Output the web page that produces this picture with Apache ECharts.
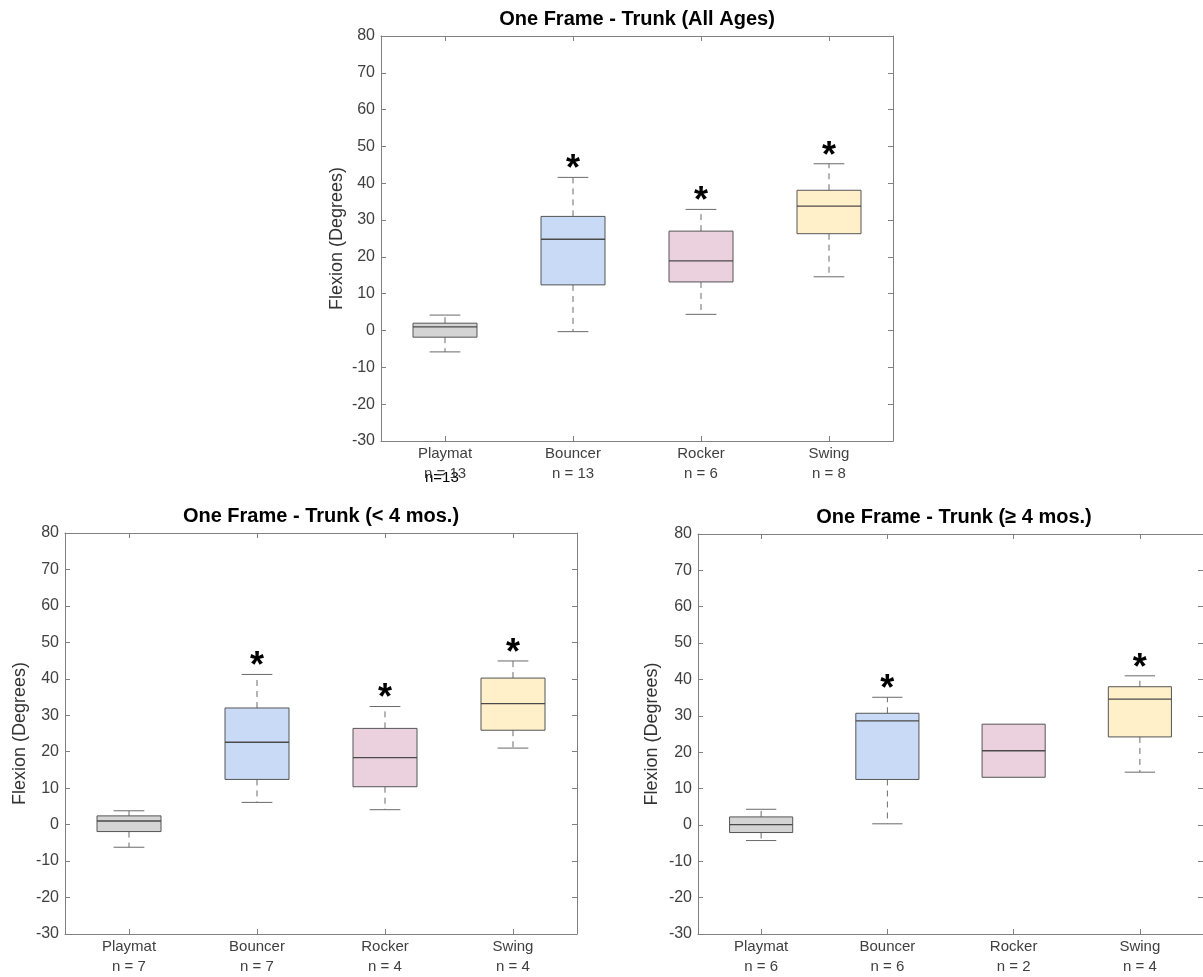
<!DOCTYPE html>
<html>
<head>
<meta charset="utf-8">
<script src="https://cdn.jsdelivr.net/npm/echarts@6/dist/echarts.min.js"></script>
<style>
html,body{margin:0;padding:0;background:#fff;}
#chart{width:1203px;height:977px;}
</style>
</head>
<body>
<div id="chart"></div>
<script>
// ---- data ----
const categories = ['Playmat', 'Bouncer', 'Rocker', 'Swing'];
const yTicks = [-30, 80, 10]; // min, max, step
// [whiskerLow, Q1, median, Q3, whiskerHigh]
const allAges = [
  [-5.8, -1.8, 1.0, 2.0, 4.2],
  [-0.3, 12.4, 24.8, 31.0, 41.6],
  [4.4, 13.2, 18.9, 27.0, 32.9],
  [14.6, 26.3, 33.8, 38.1, 45.3]
];
const youngAges = [
  [-6.2, -1.9, 1.0, 2.4, 3.8],
  [6.1, 12.4, 22.6, 32.0, 41.2],
  [4.1, 10.4, 18.4, 26.4, 32.4],
  [21.0, 25.9, 33.2, 40.2, 44.9]
];
const olderAges = [
  [-4.3, -2.1, 0.1, 2.2, 4.3],
  [0.3, 12.5, 28.6, 30.7, 35.1],
  [13.1, 13.1, 20.4, 27.7, 27.7],
  [14.5, 24.2, 34.6, 38.0, 41.0]
];
const nAll = [13, 13, 6, 8];
const nYoung = [7, 7, 4, 4];
const nOlder = [6, 6, 2, 4];
const sigAll = [0, 1, 1, 1];
const sigYoung = [0, 1, 1, 1];
const sigOlder = [0, 1, 0, 1];
const titles = ['One Frame - Trunk (All Ages)', 'One Frame - Trunk (< 4 mos.)', 'One Frame - Trunk (\u2265 4 mos.)'];
const yName = 'Flexion (Degrees)';

// ---- styles ----
const boxColors = ['#d4d4d4', '#c8daf5', '#ebd1dd', '#fff0c9'];
const FONT = 'Liberation Sans, Arial, sans-serif';
const axisCol = '#808080';
const labelCol = '#404040';

const panels = [
  {data: allAges, n: nAll, sig: sigAll, title: titles[0], grid: {left: 381, top: 36, width: 512, height: 405}, nameGap: 35},
  {data: youngAges, n: nYoung, sig: sigYoung, title: titles[1], grid: {left: 65, top: 533, width: 512, height: 404}, nameGap: 36},
  {data: olderAges, n: nOlder, sig: sigOlder, title: titles[2], grid: {left: 698, top: 534, width: 512, height: 403}, nameGap: 37}
];

function renderBox(params, api) {
  const i = api.value(0);
  const lo = api.value(1), q1 = api.value(2), md = api.value(3), q3 = api.value(4), hi = api.value(5), sig = api.value(6);
  const band = api.size([1, 0])[0];
  const bw = band * 0.5, cw = band * 0.24;
  const pLo = api.coord([i, lo]), pQ1 = api.coord([i, q1]), pMd = api.coord([i, md]);
  const pQ3 = api.coord([i, q3]), pHi = api.coord([i, hi]);
  const x = pMd[0];
  const kids = [];
  const dash = {stroke: '#6a6a6a', lineWidth: 1, lineDash: [6, 5]};
  const solid = {stroke: '#6a6a6a', lineWidth: 1};
  if (hi > q3) {
    kids.push({type: 'line', shape: {x1: x, y1: pQ3[1], x2: x, y2: pHi[1]}, style: dash});
    kids.push({type: 'line', shape: {x1: x - cw / 2, y1: pHi[1], x2: x + cw / 2, y2: pHi[1]}, style: solid});
  }
  if (lo < q1) {
    kids.push({type: 'line', shape: {x1: x, y1: pQ1[1], x2: x, y2: pLo[1]}, style: dash});
    kids.push({type: 'line', shape: {x1: x - cw / 2, y1: pLo[1], x2: x + cw / 2, y2: pLo[1]}, style: solid});
  }
  kids.push({type: 'rect', shape: {x: x - bw / 2, y: pQ3[1], width: bw, height: pQ1[1] - pQ3[1]},
    style: {fill: boxColors[i], stroke: '#555555', lineWidth: 1}});
  kids.push({type: 'line', shape: {x1: x - bw / 2, y1: pMd[1], x2: x + bw / 2, y2: pMd[1]}, style: {stroke: '#4a4a4a', lineWidth: 1.3}});
  if (sig) {
    kids.push({type: 'text', x: x, y: pHi[1] - 7,
      style: {text: '*', fill: '#000', font: 'bold 36px ' + FONT, align: 'center', verticalAlign: 'middle'}});
  }
  return {type: 'group', children: kids};
}

const option = {
  backgroundColor: '#fff',
  animation: false,
  title: [], grid: [], xAxis: [], yAxis: [], series: [],
  graphic: [{
    type: 'text', left: 425, top: 470,
    style: {text: 'n=13', fill: '#000', font: '15px ' + FONT}
  }]
};

panels.forEach((p, k) => {
  const g = p.grid;
  option.title.push({
    text: p.title, left: g.left + g.width / 2, top: g.top - 27, textAlign: 'center', padding: 0,
    textStyle: {fontFamily: FONT, fontWeight: 'bold', fontSize: 20, color: '#000'}
  });
  option.grid.push({left: g.left, top: g.top, width: g.width, height: g.height, containLabel: false});
  const nArr = p.n;
  option.xAxis.push({
    type: 'category', gridIndex: k, data: categories, position: 'bottom',
    axisLine: {show: true, onZero: false, lineStyle: {color: axisCol}},
    axisTick: {show: true, inside: true, length: 5, alignWithLabel: true, lineStyle: {color: axisCol}},
    axisLabel: {color: labelCol, fontFamily: FONT, fontSize: 15, lineHeight: 20, margin: 3,
      formatter: (v, idx) => v + '\nn = ' + nArr[idx]},
    splitLine: {show: false}
  });
  option.xAxis.push({
    type: 'category', gridIndex: k, data: categories, position: 'top',
    axisLine: {show: true, onZero: false, lineStyle: {color: axisCol}},
    axisTick: {show: true, inside: true, length: 5, alignWithLabel: true, lineStyle: {color: axisCol}},
    axisLabel: {show: false}, splitLine: {show: false}
  });
  option.yAxis.push({
    type: 'value', gridIndex: k, min: yTicks[0], max: yTicks[1], interval: yTicks[2], position: 'left',
    name: yName, nameLocation: 'middle', nameGap: p.nameGap, nameRotate: 90,
    nameTextStyle: {fontFamily: FONT, fontSize: 18, color: '#333'},
    axisLine: {show: true, onZero: false, lineStyle: {color: axisCol}},
    axisTick: {show: true, inside: true, length: 5, lineStyle: {color: axisCol}},
    axisLabel: {color: labelCol, fontFamily: FONT, fontSize: 16, margin: 6},
    splitLine: {show: false}
  });
  option.yAxis.push({
    type: 'value', gridIndex: k, min: yTicks[0], max: yTicks[1], interval: yTicks[2], position: 'right',
    axisLine: {show: true, onZero: false, lineStyle: {color: axisCol}},
    axisTick: {show: true, inside: true, length: 5, lineStyle: {color: axisCol}},
    axisLabel: {show: false}, splitLine: {show: false}
  });
  option.series.push({
    type: 'custom', xAxisIndex: 2 * k, yAxisIndex: 2 * k,
    renderItem: renderBox,
    encode: {x: 0, y: [1, 2, 3, 4, 5]},
    data: p.data.map((d, i) => [i].concat(d, [p.sig[i]]))
  });
});

const chart = echarts.init(document.getElementById('chart'), null, {renderer: 'canvas'});
chart.setOption(option);
</script>
</body>
</html>
